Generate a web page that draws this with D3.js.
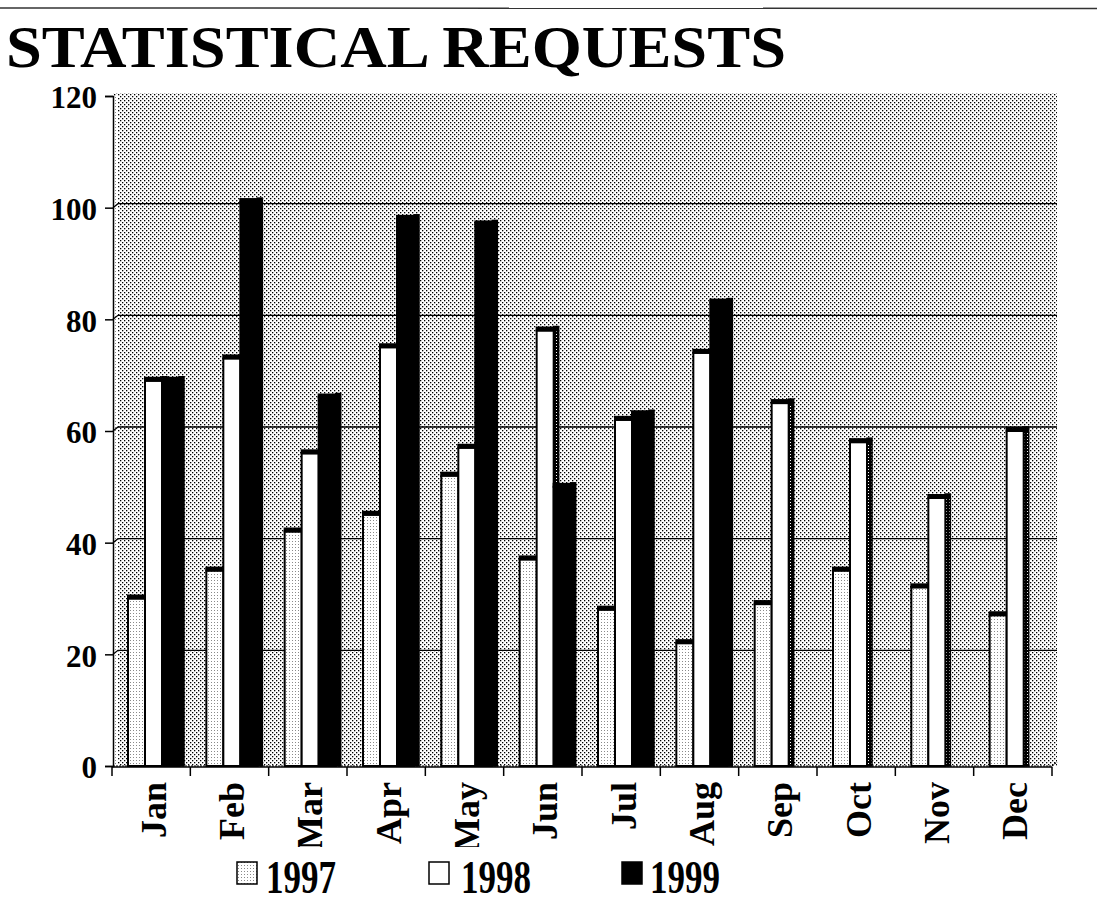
<!DOCTYPE html>
<html>
<head>
<meta charset="utf-8">
<script src="https://cdn.jsdelivr.net/npm/d3@7"></script>
<style>
  html, body { margin: 0; padding: 0; background: #fff; }
  svg { display: block; }
  text { font-family: "Liberation Serif", "Times New Roman", serif; font-weight: bold; fill: #000; }
</style>
</head>
<body>
<script>
// Monthly statistical requests, three years side by side
const months = ["Jan","Feb","Mar","Apr","May","Jun","Jul","Aug","Sep","Oct","Nov","Dec"];
const years = ["1997","1998","1999"];
const v1997 = [30, 35, 42, 45, 52, 37, 28, 22, 29, 35, 32, 27];
const v1998 = [69, 73, 56, 75, 57, 78, 62, 74, 65, 58, 48, 60];
const v1999 = [69, 101, 66, 98, 97, 50, 63, 83, null, null, null, null];
const yTicks = [0, 20, 40, 60, 80, 100, 120];

const W = 1097, H = 906;
const svg = d3.select("body").append("svg").attr("width", W).attr("height", H);
const defs = svg.append("defs");

// stipple fills
const wall = defs.append("pattern").attr("id", "wall").attr("patternUnits", "userSpaceOnUse")
  .attr("width", 4).attr("height", 4);
wall.append("rect").attr("width", 4).attr("height", 4).attr("fill", "#fff");
wall.append("rect").attr("x", 0).attr("y", 0).attr("width", 1.3).attr("height", 1.3).attr("fill", "#000");
wall.append("rect").attr("x", 2).attr("y", 2).attr("width", 1.3).attr("height", 1.3).attr("fill", "#000");

const light = defs.append("pattern").attr("id", "light").attr("patternUnits", "userSpaceOnUse")
  .attr("width", 3).attr("height", 3);
light.append("rect").attr("width", 3).attr("height", 3).attr("fill", "#fff");
light.append("rect").attr("x", 1).attr("y", 1).attr("width", 1).attr("height", 1).attr("fill", "#8a8a8a");

const side = defs.append("pattern").attr("id", "side").attr("patternUnits", "userSpaceOnUse")
  .attr("width", 3).attr("height", 3);
side.append("rect").attr("width", 3).attr("height", 3).attr("fill", "#000");
side.append("rect").attr("x", 1).attr("y", 1).attr("width", 1).attr("height", 1).attr("fill", "#fff");

const fills = { "1997": "url(#light)", "1998": "#fff", "1999": "#000" };
const sideFills = { "1997": "url(#side)", "1998": "url(#side)", "1999": "#000" };
const series = { "1997": v1997, "1998": v1998, "1999": v1999 };

// scales
const axisX = 113;
const y = d3.scaleLinear().domain([0, 120]).range([766, 96]);
const x = d3.scaleBand().domain(months).range([112, 1052]).paddingInner(0).paddingOuter(0);
const xi = d3.scaleBand().domain(years).range([16, 67]).padding(0);
const dx = 5, dy = 4;
const y0 = y(0);

// rule at the top of the page
svg.append("line").attr("x1", 0).attr("x2", W).attr("y1", 8).attr("y2", 8.5)
  .attr("stroke", "#333").attr("stroke-width", 1.5);

// title
svg.append("text").attr("x", 6).attr("y", 67)
  .attr("font-size", 59)
  .attr("textLength", 780).attr("lengthAdjust", "spacingAndGlyphs")
  .text("STATISTICAL REQUESTS");

// back wall and side wall
svg.append("rect").attr("x", axisX).attr("y", y(120) - 3).attr("width", 1057 - axisX)
  .attr("height", y0 - y(120) + 3).attr("fill", "url(#wall)");
svg.append("rect").attr("x", axisX).attr("y", y(120)).attr("width", dx)
  .attr("height", y0 - y(120)).attr("fill", "url(#light)");

// gridlines on the back wall
const grid = svg.append("g");
yTicks.filter(t => t > 0 && t < 120).forEach(t => {
  grid.append("path")
    .attr("d", `M${axisX},${y(t)} L${axisX + dx},${y(t) - dy} L1057,${y(t) - dy}`)
    .attr("fill", "none").attr("stroke", "#000").attr("stroke-width", 1.3);
});

// floor edge
svg.append("path").attr("d", `M${axisX},${y0} L1052,${y0} L1057,${y0 - dy}`)
  .attr("fill", "none").attr("stroke", "#000").attr("stroke-width", 1.2).attr("stroke-dasharray", "2,1");

// bars with a thick top and a narrow side face
const barsG = svg.append("g");
months.forEach((m, i) => {
  years.forEach(yr => {
    const v = series[yr][i];
    if (v == null) return;
    const bx = x(m) + xi(yr);
    const bw = xi.bandwidth();
    const top = y(v);
    const g = barsG.append("g");
    g.append("rect").attr("x", bx + bw).attr("y", top - dy).attr("width", dx).attr("height", y0 - top + dy)
      .attr("fill", sideFills[yr]).attr("stroke", "#000").attr("stroke-width", 1.5);
    g.append("rect").attr("x", bx).attr("y", top).attr("width", bw).attr("height", y0 - top)
      .attr("fill", fills[yr]).attr("stroke", "#000").attr("stroke-width", 2);
    g.append("rect").attr("x", bx - 1).attr("y", top - dy).attr("width", bw + dx + 1).attr("height", dy + 1)
      .attr("fill", "#000");
  });
});

// y axis
const yAxis = d3.axisLeft(y).tickValues(yTicks).tickSize(8).tickPadding(8).tickFormat(d3.format("d"));
const gy = svg.append("g").attr("transform", `translate(${axisX},0)`).call(yAxis);
gy.select(".domain").attr("stroke", "#000").attr("stroke-width", 1.5);
gy.selectAll(".tick line").attr("stroke", "#000").attr("stroke-width", 1.5);
gy.selectAll(".tick text").attr("font-size", 31).attr("font-family", "Liberation Serif")
  .attr("font-weight", "bold").attr("fill", "#000").attr("y", 2);

// x axis
const gx = svg.append("g").attr("transform", `translate(0,${y0 + 1})`);
gx.append("line").attr("x1", 112).attr("x2", 1052).attr("stroke", "#000").attr("stroke-width", 1.5);
const edges = months.map(m => x(m)).concat([x.range()[1]]);
gx.selectAll(".xt").data(edges).join("line").attr("class", "xt")
  .attr("x1", d => d).attr("x2", d => d).attr("y1", 0).attr("y2", 9)
  .attr("stroke", "#000").attr("stroke-width", 1.5);

defs.append("clipPath").attr("id", "labclip").append("rect")
  .attr("x", 0).attr("y", 770).attr("width", W).attr("height", 77);
gx.append("g").attr("clip-path", "url(#labclip)").attr("transform", `translate(0,${-(y0 + 1)})`)
  .selectAll("text").data(months).join("text")
  .attr("transform", d => `translate(${x(d) + x.bandwidth() / 2 + 2},782) rotate(-90)`)
  .attr("text-anchor", "end").attr("dy", "0.35em")
  .attr("font-size", 36)
  .text(d => d);

// legend
const legendX = [237, 429, 622];
const legendTextX = [266, 461, 650];
const leg = svg.append("g");
years.forEach((yr, i) => {
  leg.append("rect").attr("x", legendX[i]).attr("y", 862).attr("width", 20).attr("height", 22)
    .attr("fill", fills[yr]).attr("stroke", "#000").attr("stroke-width", 1.5);
  leg.append("text").attr("x", legendTextX[i]).attr("y", 893)
    .attr("font-size", 46).attr("textLength", 70).attr("lengthAdjust", "spacingAndGlyphs")
    .text(yr);
});
</script>
</body>
</html>
